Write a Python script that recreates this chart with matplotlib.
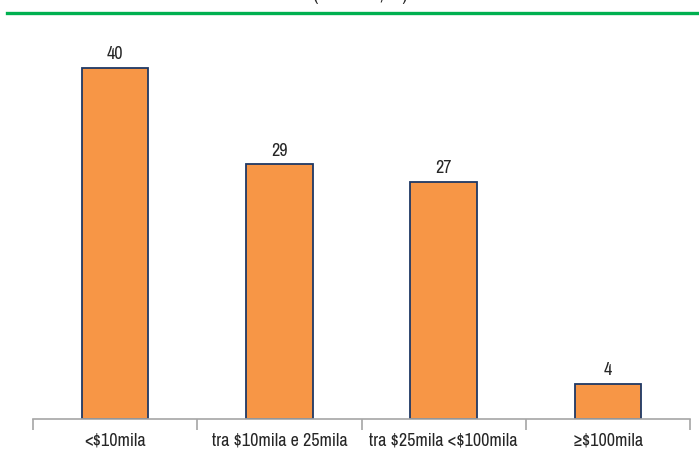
import matplotlib.pyplot as plt
from matplotlib.lines import Line2D

# valori per fascia di importo (%)
categorie = ["<\\$10mila", "tra \\$10mila e 25mila", "tra \\$25mila <\\$100mila", "≥\\$100mila"]
valori = [40, 29, 27, 4]

plt.rcParams['font.family'] = ['Liberation Sans Narrow', 'Archivo Narrow', 'DejaVu Sans']

fig = plt.figure(figsize=(6.99, 4.61), dpi=100)
ax = fig.add_axes([33 / 699, 42 / 461, 657 / 699, 389 / 461])

pos = range(len(valori))
bars = ax.bar(pos, valori, width=0.405, color="#F79646", edgecolor="#1F3864", linewidth=1.3)

for bar, val in zip(bars, valori):
    ax.annotate(f"{val}", (bar.get_x() + bar.get_width() / 2, val),
                xytext=(0, 4), textcoords="offset points",
                ha="center", va="bottom", fontsize=13, color="#262626")

ax.set_xlim(-0.5, len(valori) - 0.5)
ax.set_ylim(0, 44.3)
for side in ["top", "right", "left"]:
    ax.spines[side].set_visible(False)
ax.spines["bottom"].set_color("#A6A6A6")
ax.spines["bottom"].set_linewidth(1.2)
ax.set_yticks([])

# tick di separazione tra le categorie
ax.set_xticks([i - 0.5 for i in range(len(valori) + 1)])
ax.set_xticklabels([])
ax.tick_params(axis="x", length=8, width=1.2, color="#A6A6A6", direction="out")
for i, lab in enumerate(categorie):
    ax.text(i, -2.4, lab, ha="center", va="center", fontsize=13, color="#262626",
            fontweight="bold" if lab.startswith("≥") else "normal")

# linea verde sotto il titolo
fig.add_artist(Line2D([7 / 699, 1], [1 - 13.5 / 461] * 2, color="#00B050", linewidth=2.4))
fig.text(360 / 699, 1 - 0.5 / 461, "(in valore, %)", ha="center", va="baseline",
         fontsize=14, color="#262626")

fig.savefig("out.png", dpi=100)
